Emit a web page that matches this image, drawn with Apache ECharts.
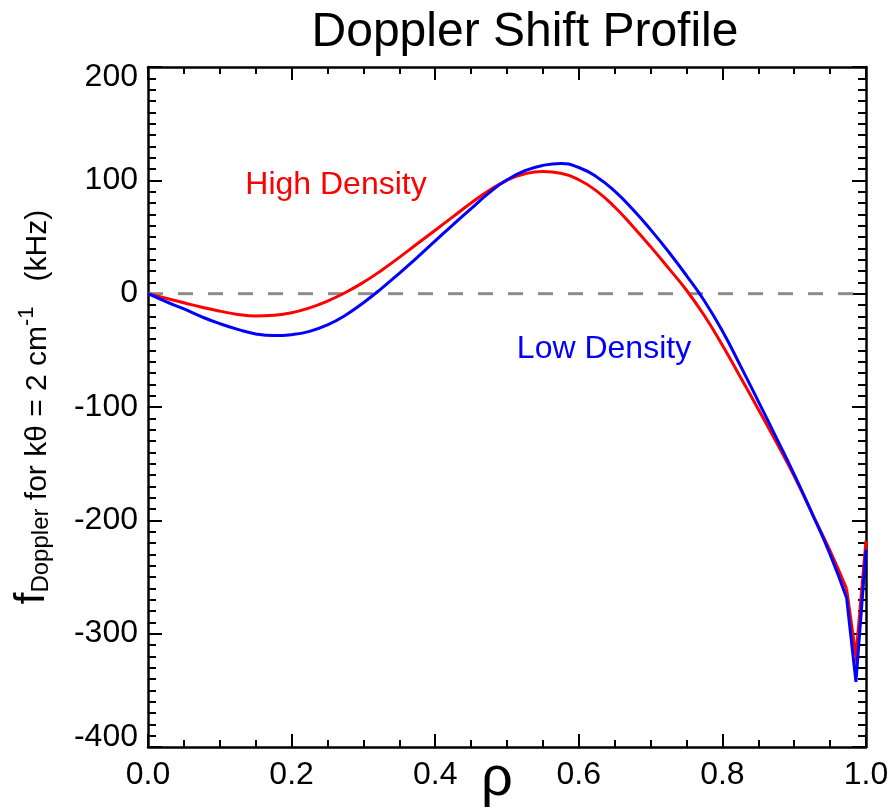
<!DOCTYPE html>
<html>
<head>
<meta charset="utf-8">
<title>Doppler Shift Profile</title>
<script src="https://cdn.jsdelivr.net/npm/echarts@6/dist/echarts.min.js"></script>
<style>
  html, body { margin: 0; padding: 0; background: #ffffff; }
  #chart { width: 890px; height: 812px; }
</style>
</head>
<body>
<div id="chart"></div>
<script>
// Normalised radius rho
const rhoGrid = [
  0.000, 0.025, 0.050, 0.075, 0.100, 0.125, 0.150, 0.175, 0.200, 0.225,
  0.250, 0.275, 0.300, 0.325, 0.350, 0.375, 0.400, 0.425, 0.450, 0.475,
  0.500, 0.525, 0.550, 0.575, 0.600, 0.625, 0.650, 0.675, 0.700, 0.725,
  0.750, 0.775, 0.800, 0.825, 0.850, 0.875, 0.900, 0.925, 0.950, 0.973,
  0.986, 1.000
];

// Doppler frequency (kHz), high-density discharge
const highDensity = [
     0.0,   -4.0,   -8.0,  -12.0,  -15.4,  -18.3,  -19.7,  -19.1,  -16.9,  -12.5,
    -6.5,    1.0,   10.0,   20.5,   32.0,   44.0,   56.0,   68.0,   80.0,   91.0,
   100.0,  105.8,  107.8,  106.3,  100.5,   90.5,   76.5,   59.5,   41.5,   22.5,
     3.0,  -19.5,  -45.5,  -73.5, -102.0, -131.0, -161.0, -194.0, -227.0, -260.5,
  -320.0, -218.0
];

// Doppler frequency (kHz), low-density discharge
const lowDensity = [
     0.0,   -7.0,  -13.5,  -20.5,  -26.5,  -31.5,  -35.5,  -37.0,  -36.2,  -33.3,
   -27.5,  -19.0,   -8.0,    4.5,   18.0,   32.0,   46.5,   61.0,   75.0,   89.0,
   100.5,  108.5,  113.2,  114.9,  111.3,  103.0,   90.5,   74.5,   56.5,   37.0,
    16.0,   -6.5,  -33.0,  -63.5,  -95.0, -127.0, -159.5, -194.0, -230.0, -268.5,
  -342.5, -226.0
];

// Axis tick values
const xTicks = [0.0, 0.2, 0.4, 0.6, 0.8, 1.0];
const yTicks = [-400, -300, -200, -100, 0, 100, 200];

const edgeRho = 0.973;   // smooth profile ends here, edge spike drawn as straight segments

function pairs(xs, ys) { return xs.map((x, i) => [x, ys[i]]); }
function profilePart(xs, ys) { return pairs(xs, ys).filter(p => p[0] <= edgeRho); }
function edgePart(xs, ys) { return pairs(xs, ys).filter(p => p[0] >= edgeRho); }

const FONT = '"Liberation Sans", Arial, Helvetica, sans-serif';
const chart = echarts.init(document.getElementById('chart'), null, { renderer: 'canvas' });

const axisLineStyle = { color: '#000', width: 2.5 };
function xAxisDef(position, showLabels) {
  return {
    type: 'value', position: position,
    min: xTicks[0], max: xTicks[xTicks.length - 1], interval: xTicks[1] - xTicks[0],
    axisLine: { show: true, onZero: false, lineStyle: axisLineStyle },
    axisTick: { show: true, inside: true, length: 13, lineStyle: { color: '#000', width: 2 } },
    minorTick: { show: true, splitNumber: 4, length: 7, lineStyle: { color: '#000', width: 2 } },
    axisLabel: {
      show: showLabels, margin: 12, fontSize: 32, color: '#000', fontFamily: FONT,
      formatter: v => v.toFixed(1)
    },
    splitLine: { show: false }, minorSplitLine: { show: false }
  };
}
function yAxisDef(position, showLabels) {
  return {
    type: 'value', position: position,
    min: yTicks[0], max: yTicks[yTicks.length - 1], interval: yTicks[1] - yTicks[0],
    axisLine: { show: true, onZero: false, lineStyle: axisLineStyle },
    axisTick: { show: true, inside: true, length: 14, lineStyle: { color: '#000', width: 2 } },
    minorTick: { show: true, splitNumber: 10, length: 8, lineStyle: { color: '#000', width: 2 } },
    axisLabel: {
      show: showLabels, margin: 10, fontSize: 32, lineHeight: 20, color: '#000', fontFamily: FONT,
      verticalAlignMinLabel: 'bottom', verticalAlignMaxLabel: 'top'
    },
    splitLine: { show: false }, minorSplitLine: { show: false }
  };
}

const xBottom = xAxisDef('bottom', true);
xBottom.name = 'ρ';
xBottom.nameLocation = 'middle';
xBottom.nameGap = 33;
xBottom.nameMoveOverlap = false;
xBottom.nameTextStyle = { fontSize: 56, color: '#000', fontFamily: FONT, verticalAlign: 'middle', padding: [0, 20, 0, 0] };

const yLeft = yAxisDef('left', true);
yLeft.name = '{f|f}{sub|Doppler}{t| for kθ = 2 cm}{sup|-1}{t|   (kHz)}';
yLeft.nameLocation = 'middle';
yLeft.nameRotate = 90;
yLeft.nameGap = 95;
yLeft.nameMoveOverlap = false;
yLeft.nameTextStyle = {
  color: '#000', fontFamily: FONT,
  rich: {
    f:   { fontSize: 42, lineHeight: 24, verticalAlign: 'bottom', fontFamily: FONT, color: '#000' },
    sub: { fontSize: 24, lineHeight: 14, verticalAlign: 'bottom', fontFamily: FONT, color: '#000' },
    t:   { fontSize: 30, lineHeight: 28, verticalAlign: 'bottom', fontFamily: FONT, color: '#000' },
    sup: { fontSize: 22, lineHeight: 52, verticalAlign: 'middle', fontFamily: FONT, color: '#000' }
  }
};

const option = {
  animation: false,
  backgroundColor: '#ffffff',
  title: {
    text: 'Doppler Shift Profile',
    left: 520, top: 4, textAlign: 'center',
    textStyle: { fontSize: 48, fontWeight: 'normal', color: '#000', fontFamily: FONT }
  },
  grid: { left: 148, right: 24, top: 67, bottom: 65, containLabel: false, outerBoundsMode: 'none' },
  xAxis: [xBottom, xAxisDef('top', false)],
  yAxis: [yLeft, yAxisDef('right', false)],
  series: [
    {
      name: 'zero', type: 'line', data: [[xTicks[0], 0], [xTicks[xTicks.length - 1], 0]],
      symbol: 'none', silent: true,
      lineStyle: { color: '#8c8c8c', width: 3, type: [15, 15] }, z: 1
    },
    {
      name: 'High Density', type: 'line', data: profilePart(rhoGrid, highDensity),
      smooth: 0.5, symbol: 'none', lineStyle: { color: '#ff0000', width: 3 }, z: 2
    },
    {
      name: 'High Density edge', type: 'line', data: edgePart(rhoGrid, highDensity),
      symbol: 'none', lineStyle: { color: '#ff0000', width: 3, join: 'miter' }, z: 2
    },
    {
      name: 'Low Density', type: 'line', data: profilePart(rhoGrid, lowDensity),
      smooth: 0.5, symbol: 'none', lineStyle: { color: '#0000ff', width: 3 }, z: 3
    },
    {
      name: 'Low Density edge', type: 'line', data: edgePart(rhoGrid, lowDensity),
      symbol: 'none', lineStyle: { color: '#0000ff', width: 3, join: 'miter' }, z: 3
    }
  ],
  graphic: [
    {
      type: 'text', x: 336, y: 185, z: 10,
      style: { text: 'High Density', fill: '#ff0000', fontSize: 32, fontFamily: FONT, align: 'center', verticalAlign: 'middle' }
    },
    {
      type: 'text', x: 604, y: 349, z: 10,
      style: { text: 'Low Density', fill: '#0000ff', fontSize: 32, fontFamily: FONT, align: 'center', verticalAlign: 'middle' }
    }
  ]
};

chart.setOption(option);
</script>
</body>
</html>
